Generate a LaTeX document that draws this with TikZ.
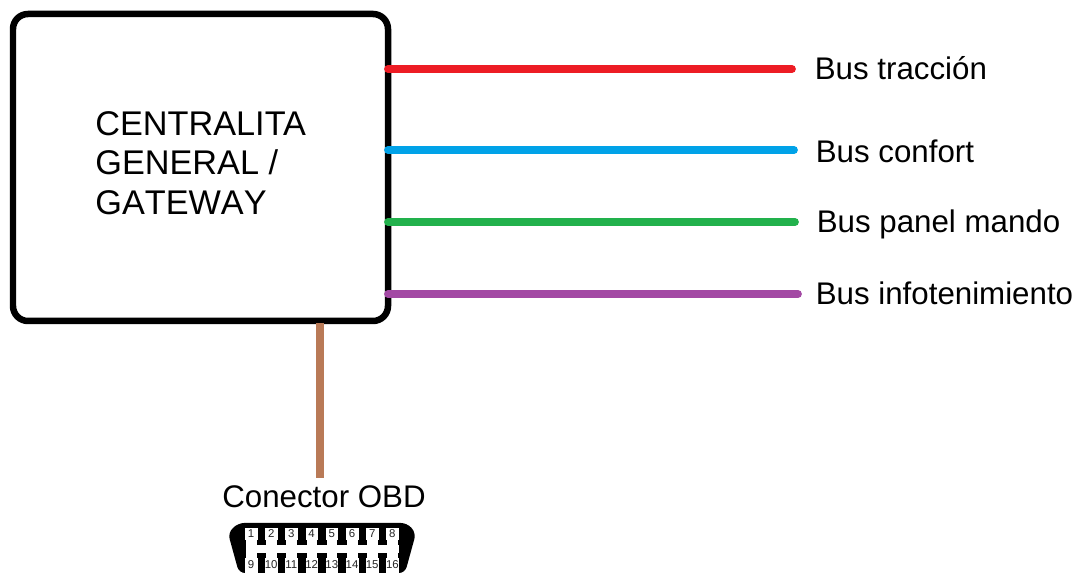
\documentclass[tikz,border=0pt]{standalone}
\usepackage{fontspec}
\setmainfont{Liberation Sans}
\tikzset{
  busline/.style={line width=0.155cm,line cap=round},
  buslabel/.style={anchor=base west,inner sep=0pt,font=\fontsize{17.8}{17.8}\selectfont},
  pinlabel/.style={inner sep=0pt,text=black!85,font=\fontsize{6.5}{6.5}\selectfont},
}
\definecolor{busred}{HTML}{ED1C24}
\definecolor{busblue}{HTML}{00A2E8}
\definecolor{busgreen}{HTML}{22B14C}
\definecolor{buspurple}{HTML}{A349A4}
\definecolor{obdbrown}{HTML}{B97A57}
\begin{document}
\begin{tikzpicture}[x=0.02cm,y=-0.02cm]
\useasboundingbox (0,0) rectangle (1078,573);
% box first, the lines end on top of its edge
\draw [line width=0.13cm,rounded corners=0.3cm] (13,14) rectangle (388,321);
\coordinate (tr0) at (388,69);
\coordinate (co0) at (388,150);
\coordinate (pa0) at (388,222);
\coordinate (in0) at (388,294);
\coordinate (ob0) at (320,323);
\coordinate (ob1) at (320,478);
\node [buslabel] (tr) at (814.5,79.5) {Bus tracción};
\node [buslabel] (co) at (815.5,162.5) {Bus confort};
\node [buslabel] (pa) at (816.5,232.5) {Bus panel mando};
\node [buslabel] (in) at (815.5,304.5) {Bus infotenimiento};
\draw [busline,busred] (tr0) -- (792,69);
\draw [busline,busblue] (co0) -- (794,150);
\draw [busline,busgreen] (pa0) -- (795,222);
\draw [busline,buspurple] (in0) -- (798,294);
\node [anchor=north west,inner sep=0pt,align=left,font=\fontsize{19.5}{22.5}\selectfont] (gw) at (95,111) {CENTRALITA\\GENERAL /\\{\addfontfeatures{Kerning=Off}GATEWAY}};
\node [anchor=base,inner sep=0pt,font=\fontsize{17.8}{17.8}\selectfont] (obd) at (324,508) {Conector OBD};
\draw [busline,obdbrown,line cap=butt] (ob0) -- (ob1);
% connector body
\fill [rounded corners=0.12cm] (228,533) -- (238,523) -- (407,523) -- (416,533) -- (405,573) -- (239,573) -- cycle;
\fill [white] (246,545) rectangle (399,553);
\foreach \n [count=\i from 0] in {1,...,8} {
  \fill [white] (245+20.2*\i,528) rectangle ++(12.5,12);
  \fill [white] (246+20.2*\i,540) rectangle ++(10.5,5);
  \node [pinlabel] (p\n) at (251+20.2*\i,533.5) {\n};
}
\foreach \n [count=\i from 0] in {9,...,16} {
  \fill [white] (245+20.2*\i,558) rectangle ++(12.5,15);
  \fill [white] (246+20.2*\i,553) rectangle ++(10.5,5);
  \node [pinlabel] (p\n) at (251+20.2*\i,565) {\n};
}
\end{tikzpicture}
\end{document}
